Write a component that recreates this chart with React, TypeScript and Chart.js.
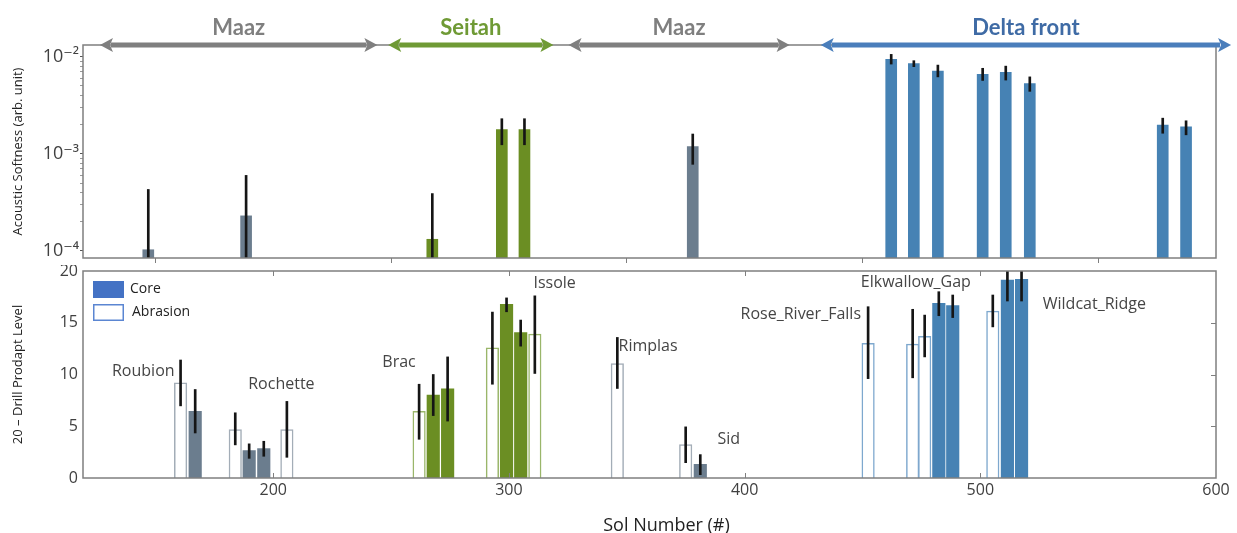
import React, { useEffect, useRef } from 'react';
import { Chart, registerables } from 'chart.js';
Chart.register(...registerables);

const FONT = "'Open Sans', 'DejaVu Sans', sans-serif";
Chart.defaults.font.family = FONT;

// ---------- shared x axis ----------
const X_MIN = 119.3;
const X_MAX = 600;
const xTickValues = [200, 300, 400, 500, 600];

// ---------- top panel (acoustic softness, log) ----------
const TOP_MIN = 8.47e-5;
const TOP_MAX = 1.32e-2;
const topTickValues = [1e-4, 1e-3, 1e-2];
const topTickLabels = ['10⁻⁴', '10⁻³', '10⁻²'];
const topMinorSteps = [2, 3, 4, 5, 6, 7, 8, 9];

const topSols = [147, 188.5, 267.5, 297, 306.6, 378, 462.2, 471.8, 482, 501, 510.8, 521, 577.4, 587.3];
const topValues = [1.03e-4, 2.3e-4, 1.32e-4, 1.78e-3, 1.78e-3, 1.19e-3, 9.4e-3, 8.5e-3, 7.1e-3, 6.6e-3, 6.9e-3, 5.3e-3, 1.98e-3, 1.9e-3];
const topErrLow = [5e-5, 5e-5, 5e-5, 1.24e-3, 1.24e-3, 7.8e-4, 8.4e-3, 7.9e-3, 6.2e-3, 5.7e-3, 5.75e-3, 4.4e-3, 1.63e-3, 1.57e-3];
const topErrHigh = [4.3e-4, 6e-4, 3.9e-4, 2.3e-3, 2.3e-3, 1.6e-3, 1.057e-2, 9.1e-3, 8.2e-3, 7.6e-3, 8.0e-3, 6.2e-3, 2.33e-3, 2.19e-3];
const topUnits = ['maaz', 'maaz', 'seitah', 'seitah', 'seitah', 'maaz', 'delta', 'delta', 'delta', 'delta', 'delta', 'delta', 'delta', 'delta'];

// ---------- geological units (top arrows) ----------
const unitNames = ['Maaz', 'Seitah', 'Maaz', 'Delta front'];
const unitStart = [126.5, 248.8, 325.3, 432.3];
const unitEnd = [244.2, 318.9, 419.1, 606.4];
const unitArrowColors = ['#7F7F7F', '#6F9A35', '#7F7F7F', '#4A7EBB'];
const unitTextColors = ['#7F7F7F', '#6F9A35', '#7F7F7F', '#3F6BA5'];

// ---------- bottom panel (drill prodapt level) ----------
const BOT_MIN = 0;
const BOT_MAX = 20;
const botTickValues = [0, 5, 10, 15, 20];

const botSols = [160.7, 166.9, 183.9, 189.8, 196.0, 205.8, 261.9, 267.9, 274.0, 293.0, 299.0, 305.0, 311.0, 346.0, 375.0, 381.2, 452.4, 471.3, 476.4, 482.4, 488.3, 505.3, 511.5, 517.5];
const botValues = [9.19, 6.45, 4.68, 2.65, 2.84, 4.68, 6.45, 8.0, 8.61, 12.58, 16.77, 14.06, 13.9, 11.06, 3.23, 1.32, 13.0, 12.94, 13.7, 16.87, 16.65, 16.13, 19.13, 19.19];
const botErrLow = [6.97, 4.35, 3.2, 1.9, 2.1, 2.0, 3.74, 6.03, 5.5, 9.06, 16.06, 12.74, 10.1, 8.65, 1.48, 0.32, 9.6, 9.68, 11.7, 15.68, 15.5, 14.6, 17.1, 17.1];
const botErrHigh = [11.4, 8.55, 6.3, 3.3, 3.55, 7.4, 9.06, 10.0, 11.7, 16.03, 17.4, 15.26, 17.6, 13.58, 4.94, 2.26, 16.55, 16.3, 15.74, 18.0, 17.68, 17.68, 20.5, 20.5];
const botTypes = ['A', 'C', 'A', 'C', 'C', 'A', 'A', 'C', 'C', 'A', 'C', 'C', 'A', 'A', 'A', 'C', 'A', 'A', 'A', 'C', 'C', 'A', 'C', 'C'];
const botUnits = ['maaz', 'maaz', 'maaz', 'maaz', 'maaz', 'maaz', 'seitah', 'seitah', 'seitah', 'seitah', 'seitah', 'seitah', 'seitah', 'maaz', 'maaz', 'maaz', 'delta', 'delta', 'delta', 'delta', 'delta', 'delta', 'delta', 'delta'];

// sample name annotations (anchored in data units: sol, level)
const sampleNames = ['Roubion', 'Rochette', 'Brac', 'Issole', 'Rimplas', 'Sid', 'Rose_River_Falls', 'Elkwallow_Gap', 'Wildcat_Ridge'];
const sampleSol = [131.6, 189.4, 246.3, 310.4, 346.5, 388.5, 398.3, 449.3, 526.5];
const sampleLevel = [10.3, 9.0, 11.2, 18.8, 12.7, 3.76, 15.8, 18.9, 16.77];

const legendLabels = ['Core', 'Abrasion'];

// ---------- styles ----------
const coreColors: Record<string, string> = { maaz: '#6B7D8E', seitah: '#6B8E23', delta: '#4682B4' };
const abrasionBorders: Record<string, string> = { maaz: '#A3ADB7', seitah: '#9AB66A', delta: '#7EA8CE' };
const FRAME = '#7F7F7F';
const ERR = '#151515';

const framePlugin = {
  id: 'frame',
  afterDatasetsDraw(chart: any) {
    const { ctx, chartArea: a } = chart;
    ctx.save();
    ctx.strokeStyle = FRAME;
    ctx.lineWidth = 1.5;
    ctx.strokeRect(a.left, a.top, a.right - a.left, a.bottom - a.top);
    ctx.restore();
  },
};

const arrowsPlugin = {
  id: 'unitArrows',
  afterDraw(chart: any) {
    const { ctx, chartArea: a } = chart;
    const xs = chart.scales.x;
    const y = a.top;
    ctx.save();
    unitNames.forEach((name, i) => {
      const x1 = xs.getPixelForValue(unitStart[i]);
      const x2 = xs.getPixelForValue(unitEnd[i]);
      const head = 13;
      const half = 7;
      const c = unitArrowColors[i];
      ctx.strokeStyle = c;
      ctx.fillStyle = c;
      ctx.lineWidth = 5;
      ctx.beginPath();
      ctx.moveTo(x1 + head - 2, y);
      ctx.lineTo(x2 - head + 2, y);
      ctx.stroke();
      ctx.beginPath();
      ctx.moveTo(x1, y);
      ctx.lineTo(x1 + head, y - half);
      ctx.lineTo(x1 + head - 3, y);
      ctx.lineTo(x1 + head, y + half);
      ctx.closePath();
      ctx.fill();
      ctx.beginPath();
      ctx.moveTo(x2, y);
      ctx.lineTo(x2 - head, y - half);
      ctx.lineTo(x2 - head + 3, y);
      ctx.lineTo(x2 - head, y + half);
      ctx.closePath();
      ctx.fill();
      ctx.font = "bold 22px Lato, 'Open Sans', sans-serif";
      ctx.textAlign = 'center';
      ctx.textBaseline = 'alphabetic';
      ctx.fillStyle = unitTextColors[i];
      ctx.fillText(name, (x1 + x2) / 2, y - 10);
    });
    ctx.restore();
  },
};

const bottomDecor = {
  id: 'bottomDecor',
  afterDraw(chart: any) {
    const { ctx, chartArea: a } = chart;
    const xs = chart.scales.x;
    const ys = chart.scales.y;
    ctx.save();
    // inward ticks
    ctx.strokeStyle = FRAME;
    ctx.lineWidth = 1;
    xTickValues.forEach((v) => {
      const px = Math.round(xs.getPixelForValue(v)) + 0.5;
      if (px > a.right - 2) return;
      ctx.beginPath();
      ctx.moveTo(px, a.bottom);
      ctx.lineTo(px, a.bottom - 5);
      ctx.moveTo(px, a.top);
      ctx.lineTo(px, a.top + 5);
      ctx.stroke();
    });
    botTickValues.forEach((v) => {
      if (v === BOT_MIN || v === BOT_MAX) return;
      const py = Math.round(ys.getPixelForValue(v)) + 0.5;
      ctx.beginPath();
      ctx.moveTo(a.right, py);
      ctx.lineTo(a.right - 5, py);
      ctx.stroke();
    });
    // sample names
    ctx.font = `16px ${FONT}`;
    ctx.fillStyle = '#454545';
    ctx.textAlign = 'left';
    ctx.textBaseline = 'middle';
    sampleNames.forEach((n, i) => {
      ctx.fillText(n, xs.getPixelForValue(sampleSol[i]), ys.getPixelForValue(sampleLevel[i]));
    });
    // legend
    const lx = a.left + 10;
    const ly = a.top + 10;
    ctx.fillStyle = '#4472C4';
    ctx.fillRect(lx, ly, 31, 17);
    ctx.strokeStyle = '#5B86D2';
    ctx.lineWidth = 1.5;
    ctx.fillStyle = '#fff';
    ctx.fillRect(lx + 0.75, ly + 23.75, 29.5, 15.5);
    ctx.strokeRect(lx + 0.75, ly + 23.75, 29.5, 15.5);
    ctx.font = `14px ${FONT}`;
    ctx.fillStyle = '#222';
    ctx.textBaseline = 'middle';
    ctx.fillText(legendLabels[0], lx + 37, ly + 8.5);
    ctx.fillText(legendLabels[1], lx + 39, ly + 31.5);
    // x title
    ctx.font = `18px ${FONT}`;
    ctx.fillStyle = '#222';
    ctx.textAlign = 'center';
    ctx.textBaseline = 'alphabetic';
    ctx.fillText('Sol Number (#)', (a.left + a.right) / 2 + 17, chart.height - 2);
    ctx.restore();
  },
};

const fitY = (s: any) => {
  s.width = 83;
  s.paddingTop = 0;
  s.paddingBottom = 0;
};

function topConfig(): any {
  const errData = topSols.map((x, i) => ({ x, y: [topErrLow[i], topErrHigh[i]] }));
  const barData = topSols.map((x, i) => ({ x, y: topValues[i] }));
  return {
    type: 'bar',
    data: {
      datasets: [
        { data: errData, backgroundColor: ERR, barThickness: 2, grouped: false, order: 0, clip: 0 },
        { data: barData, backgroundColor: topUnits.map((u) => coreColors[u]), barThickness: 11, grouped: false, order: 1, clip: 0 },
      ],
    },
    options: {
      animation: false,
      responsive: false,
      layout: { padding: { left: 0, right: 21, top: 45, bottom: 0 } },
      plugins: { legend: { display: false }, tooltip: { enabled: false } },
      scales: {
        x: {
          type: 'linear',
          min: X_MIN,
          max: X_MAX,
          offset: false,
          afterBuildTicks: (s: any) => { s.ticks = xTickValues.map((v) => ({ value: v })); },
          ticks: { display: false },
          grid: { drawOnChartArea: false, drawTicks: true, tickLength: 5, color: FRAME },
          border: { display: false },
          afterFit: (s: any) => { s.height = 7; s.paddingLeft = 0; s.paddingRight = 0; },
        },
        y: {
          type: 'logarithmic',
          min: TOP_MIN,
          max: TOP_MAX,
          afterBuildTicks: (s: any) => {
            const t: any[] = [];
            topTickValues.forEach((v, i) => {
              t.push({ value: v, major: true });
              if (i < topTickValues.length - 1) topMinorSteps.forEach((m) => t.push({ value: v * m }));
            });
            s.ticks = t;
          },
          ticks: {
            autoSkip: false,
            padding: 1,
            color: '#404040',
            font: { size: 18 },
            callback: (value: number) => {
              const i = topTickValues.findIndex((v) => Math.abs(v - value) / v < 1e-6);
              return i >= 0 ? topTickLabels[i] : '';
            },
          },
          grid: {
            drawOnChartArea: false,
            drawTicks: true,
            tickLength: 3,
            color: FRAME,
            tickColor: (c: any) => (c.tick && c.tick.major ? '#555' : '#999'),
          },
          border: { display: false },
          title: { display: true, text: 'Acoustic Softness (arb. unit)', color: '#222', font: { size: 13 }, padding: { top: 10, bottom: 0 } },
          afterFit: fitY,
        },
      },
    },
    plugins: [framePlugin, arrowsPlugin],
  };
}

function bottomConfig(): any {
  const errData = botSols.map((x, i) => ({ x, y: [botErrLow[i], botErrHigh[i]] }));
  const coreIdx = botSols.map((_, i) => i).filter((i) => botTypes[i] === 'C');
  const abrIdx = botSols.map((_, i) => i).filter((i) => botTypes[i] === 'A');
  return {
    type: 'bar',
    data: {
      datasets: [
        { data: errData, backgroundColor: ERR, barThickness: 2, grouped: false, order: 0, clip: 0 },
        {
          data: coreIdx.map((i) => ({ x: botSols[i], y: botValues[i] })),
          backgroundColor: coreIdx.map((i) => coreColors[botUnits[i]]),
          barThickness: 12.5, grouped: false, order: 1, clip: 0,
        },
        {
          data: abrIdx.map((i) => ({ x: botSols[i], y: botValues[i] })),
          backgroundColor: '#ffffff',
          borderColor: abrIdx.map((i) => abrasionBorders[botUnits[i]]),
          borderWidth: 1.5,
          barThickness: 12.5, grouped: false, order: 2, clip: 0,
        },
      ],
    },
    options: {
      animation: false,
      responsive: false,
      layout: { padding: { left: 0, right: 21, top: 6, bottom: 0 } },
      plugins: { legend: { display: false }, tooltip: { enabled: false } },
      scales: {
        x: {
          type: 'linear',
          min: X_MIN,
          max: X_MAX,
          offset: false,
          afterBuildTicks: (s: any) => { s.ticks = xTickValues.map((v) => ({ value: v })); },
          ticks: { padding: 3, color: '#404040', font: { size: 16 }, maxRotation: 0, autoSkip: false },
          grid: { display: false, drawTicks: false },
          border: { display: false },
          afterFit: (s: any) => { s.height = 55; s.paddingLeft = 0; s.paddingRight = 0; },
        },
        y: {
          type: 'linear',
          min: BOT_MIN,
          max: BOT_MAX,
          afterBuildTicks: (s: any) => { s.ticks = botTickValues.map((v) => ({ value: v })); },
          ticks: { padding: 5, color: '#404040', font: { size: 16 }, autoSkip: false },
          grid: { display: false, drawTicks: false },
          border: { display: false },
          title: { display: true, text: '20 – Drill Prodapt Level', color: '#222', font: { size: 13 }, padding: { top: 10, bottom: 0 } },
          afterFit: fitY,
        },
      },
    },
    plugins: [framePlugin, bottomDecor],
  };
}

export default function App() {
  const topRef = useRef<HTMLCanvasElement>(null);
  const botRef = useRef<HTMLCanvasElement>(null);
  useEffect(() => {
    const top = new Chart(topRef.current as HTMLCanvasElement, topConfig());
    const bot = new Chart(botRef.current as HTMLCanvasElement, bottomConfig());
    return () => {
      top.destroy();
      bot.destroy();
    };
  }, []);
  return (
    <div style={{ position: 'fixed', left: 0, top: 0, width: 1237, height: 533, background: '#fff' }}>
      <canvas ref={topRef} width={1237} height={265} style={{ position: 'absolute', left: 0, top: 0, width: 1237, height: 265 }} />
      <canvas ref={botRef} width={1237} height={268} style={{ position: 'absolute', left: 0, top: 265, width: 1237, height: 268 }} />
    </div>
  );
}
